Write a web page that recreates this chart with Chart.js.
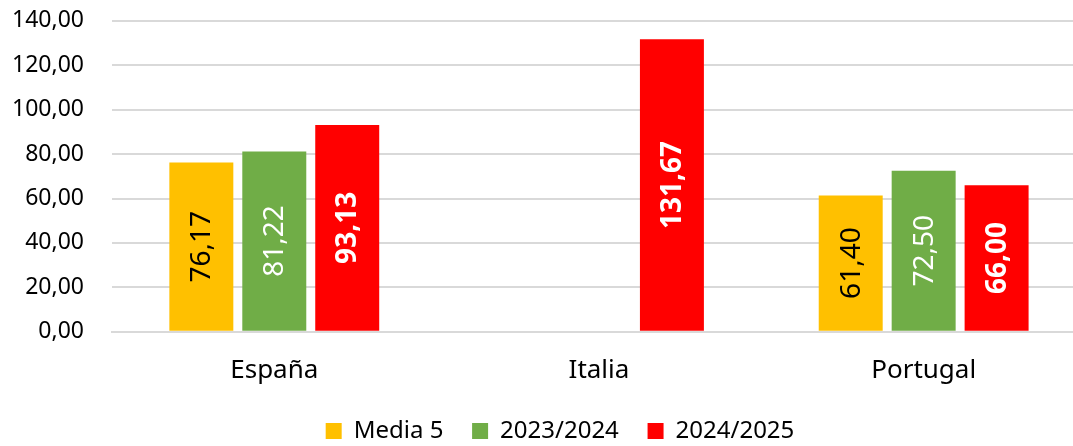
<!DOCTYPE html>
<html>
<head>
<meta charset="utf-8">
<script src="https://cdn.jsdelivr.net/npm/chart.js@4"></script>
<style>
  html, body { margin: 0; padding: 0; background: #fff; overflow: hidden; height: 446px; }
  #wrap { width: 1120px; height: 474px; position: relative; top: -21px; }
</style>
</head>
<body>
<div id="wrap"><canvas id="chart"></canvas></div>
<script>
const categories = ["España", "Italia", "Portugal"];
const media5 = [76.17, null, 61.40];
const season2324 = [81.22, null, 72.50];
const season2425 = [93.13, 131.67, 66.00];
const yTicks = [0, 20, 40, 60, 80, 100, 120, 140];

const FONT = "'Noto Sans', sans-serif";
const fmt = v => v.toFixed(2).replace(".", ",");

// vertical value labels inside bars
const barLabels = {
  id: "barLabels",
  afterDatasetsDraw(chart) {
    const ctx = chart.ctx;
    chart.data.datasets.forEach((ds, i) => {
      const meta = chart.getDatasetMeta(i);
      meta.data.forEach((bar, j) => {
        const v = ds.data[j];
        if (v == null) return;
        ctx.save();
        ctx.translate(bar.x, (bar.y + bar.base) / 2);
        ctx.rotate(-Math.PI / 2);
        ctx.font = (ds.labelBold ? "bold " : "") + "28px " + FONT;
        ctx.fillStyle = ds.labelColor;
        ctx.textAlign = "center";
        ctx.textBaseline = "middle";
        ctx.fillText(fmt(v), 0, 1);
        ctx.restore();
      });
    });
  }
};

// centre the legend on the whole chart, not on the shifted plot
const legendShift = {
  id: "legendShift",
  afterLayout(chart) {
    if (!chart.legend) return;
    chart.legend.left += 25;
    chart.legend.right += 25;
  }
};

new Chart(document.getElementById("chart"), {
  type: "bar",
  data: {
    labels: categories,
    datasets: [
      { label: "Media 5", data: media5, backgroundColor: "#FFC000", labelColor: "#000", labelBold: false },
      { label: "2023/2024", data: season2324, backgroundColor: "#70AD47", labelColor: "#fff", labelBold: false },
      { label: "2024/2025", data: season2425, backgroundColor: "#FF0000", labelColor: "#fff", labelBold: true }
    ]
  },
  options: {
    responsive: true,
    maintainAspectRatio: false,
    animation: false,
    barPercentage: 0.877,
    categoryPercentage: 0.674,
    layout: { padding: { left: -16, right: 34, top: 0, bottom: 0 } },
    plugins: {
      tooltip: { enabled: false },
      legend: {
        position: "bottom",
        labels: {
          boxWidth: 16,
          boxHeight: 16,
          padding: 10,
          color: "#000",
          font: { family: FONT, size: 24 },
          generateLabels: chart => {
            const items = Chart.defaults.plugins.legend.labels.generateLabels(chart);
            items.forEach((it, i) => { if (i < items.length - 1) it.text += "\u00a0\u00a0\u00a0"; });
            return items;
          }
        }
      }
    },
    scales: {
      x: {
        grid: { display: false, drawTicks: false },
        border: { color: "#d9d9d9", width: 2 },
        ticks: { color: "#000", padding: 23, font: { family: FONT, size: 26 } }
      },
      y: {
        min: 0,
        max: 140,
        afterBuildTicks: axis => { axis.ticks = yTicks.map(v => ({ value: v })); },
        grid: { color: "#d9d9d9", lineWidth: 2, drawTicks: false },
        border: { display: false },
        ticks: { color: "#000", padding: 28, callback: v => fmt(v), font: { family: FONT, size: 23 } }
      }
    }
  },
  plugins: [barLabels, legendShift]
});
</script>
</body>
</html>
